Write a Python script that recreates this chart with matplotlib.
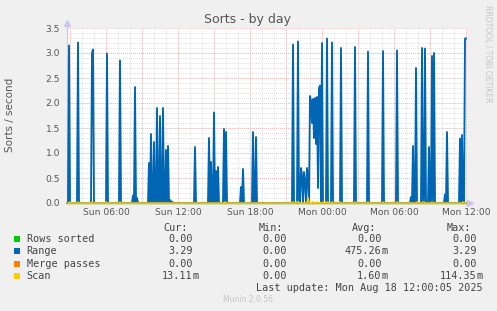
import numpy as np
import matplotlib.pyplot as plt
from matplotlib.patches import Rectangle

W, H = 497, 311

# Range sorts per second, only the non-zero samples (5 minute steps)
range_times = ['Sun 02:55', 'Sun 03:40', 'Sun 04:50', 'Sun 04:55', 'Sun 06:05', 'Sun 07:10',
               'Sun 08:15', 'Sun 08:25', 'Sun 08:35', 'Sun 09:35', 'Sun 09:45', 'Sun 10:00',
               'Sun 10:15', 'Sun 10:30', 'Sun 10:45', 'Sun 11:00', 'Sun 11:10', 'Sun 11:20',
               'Sun 11:30', 'Sun 13:25', 'Sun 14:35', 'Sun 14:45', 'Sun 15:00', 'Sun 15:10',
               'Sun 15:20', 'Sun 15:50', 'Sun 16:00', 'Sun 17:15', 'Sun 17:25', 'Sun 18:15',
               'Sun 18:30', 'Sun 21:35', 'Sun 22:00', 'Sun 22:15', 'Sun 22:20', 'Sun 22:30',
               'Sun 22:35', 'Sun 22:45', 'Sun 22:50', 'Sun 23:00', 'Sun 23:05', 'Sun 23:10',
               'Sun 23:15', 'Sun 23:20', 'Sun 23:25', 'Sun 23:30', 'Sun 23:35', 'Sun 23:40',
               'Sun 23:45', 'Sun 23:50', 'Mon 00:00', 'Mon 00:25', 'Mon 00:50', 'Mon 01:35',
               'Mon 02:45', 'Mon 03:50', 'Mon 05:05', 'Mon 06:15', 'Mon 07:25', 'Mon 07:35',
               'Mon 07:50', 'Mon 08:20', 'Mon 08:35', 'Mon 08:55', 'Mon 09:10', 'Mon 09:20',
               'Mon 10:15', 'Mon 10:25', 'Mon 11:30', 'Mon 11:40', 'Mon 11:55', 'Mon 12:00']
range_values = [3.15, 3.21, 3.00, 3.07, 2.99, 2.85,
                0.15, 2.32, 0.10, 0.80, 1.38, 1.22,
                1.90, 1.74, 1.90, 1.06, 1.14, 0.06,
                0.03, 1.12, 1.30, 0.82, 1.81, 0.64,
                0.72, 1.48, 1.42, 0.32, 0.68, 1.42,
                1.32, 3.17, 3.23, 0.70, 0.55, 0.62,
                0.45, 0.70, 0.50, 2.14, 2.05, 1.60,
                2.08, 1.30, 2.10, 1.18, 2.12, 0.30,
                2.30, 2.35, 3.20, 3.29, 3.21, 3.10,
                3.12, 3.03, 3.04, 3.05, 0.12, 1.14,
                2.70, 3.10, 3.09, 1.12, 2.94, 3.00,
                0.17, 1.42, 1.29, 1.36, 3.29, 3.29]

# Scan sorts per second, non-zero samples
scan_times = ['Sun 03:00', 'Sun 03:40', 'Sun 04:50', 'Sun 06:00', 'Sun 07:10', 'Sun 15:55',
              'Sun 21:35', 'Sun 21:55', 'Sun 22:00', 'Sun 22:50', 'Sun 23:15', 'Sun 23:30',
              'Sun 23:40', 'Sun 23:50', 'Mon 00:05', 'Mon 00:15', 'Mon 00:25', 'Mon 00:30',
              'Mon 00:50', 'Mon 01:30', 'Mon 02:45', 'Mon 03:50', 'Mon 05:05', 'Mon 06:15',
              'Mon 07:55', 'Mon 08:25', 'Mon 08:30', 'Mon 09:10', 'Mon 11:45', 'Mon 12:00']
scan_values = [0.02, 0.02, 0.02, 0.02, 0.02, 0.02,
               0.02, 0.02, 0.03, 0.114, 0.03, 0.02,
               0.02, 0.015, 0.02, 0.02, 0.02, 0.015,
               0.02, 0.02, 0.02, 0.02, 0.02, 0.02,
               0.02, 0.02, 0.02, 0.02, 0.02, 0.013]

tick_labels = ['Sun 06:00', 'Sun 12:00', 'Sun 18:00', 'Mon 00:00', 'Mon 06:00', 'Mon 12:00']

legend_names = ['Rows sorted', 'Range', 'Merge passes', 'Scan']
legend_colors = ['#00CC00', '#0066B3', '#FF8000', '#FFCC00']
cur_vals = ['0.00', '3.29', '0.00', '13.11m']
min_vals = ['0.00', '0.00', '0.00', '0.00']
avg_vals = ['0.00', '475.26m', '0.00', '1.60m']
max_vals = ['0.00', '3.29', '0.00', '114.35m']


def to_hours(s):
    day, hm = s.split()
    h, m = hm.split(':')
    return {'Sun': 0, 'Mon': 24}[day] + int(h) + int(m) / 60.


T0 = 2.75
t = T0 + np.arange(400) / 12.


def series(times, values):
    y = np.zeros(len(t))
    for s, v in zip(times, values):
        y[int(round((to_hours(s) - T0) * 12))] = v
    return y


rows = np.zeros(len(t))
rng = series(range_times, range_values)
merge = np.zeros(len(t))
scan = series(scan_times, scan_values)

TXT = '#555555'
fig = plt.figure(figsize=(W / 100, H / 100), dpi=100, facecolor='#F0F0F0')
ax = fig.add_axes([67 / W, 1 - 203 / H, 400 / W, 175 / H], facecolor='white')
ax.set_xlim(T0, T0 + 400 / 12.)
ax.set_ylim(0, 3.5)
for s in ax.spines.values():
    s.set_visible(False)

# grid
dots = (0, (1, 1.2))
for v in np.arange(0.1, 3.5, 0.1):
    ax.axhline(v, color='#DCDCDC', lw=0.65, ls=dots, zorder=0)
for h in range(3, 37):
    ax.axvline(h, color='#DCDCDC', lw=0.65, ls=dots, zorder=0)
for v in np.arange(0.5, 3.51, 0.5):
    ax.axhline(v, color='#F0B4B4', lw=0.65, ls=dots, zorder=0.5)
for h in range(3, 37, 3):
    ax.axvline(h, color='#F0B4B4', lw=0.65, ls=dots, zorder=0.5)

# axes with arrows
ax.plot([0, 0], [0, 1.02], transform=ax.transAxes, color='#C8C8F0', lw=0.8, clip_on=False)
ax.plot([0], [1.028], marker='^', ms=5, color='#C8C8F0', transform=ax.transAxes, clip_on=False)
ax.plot([1.0085], [0], marker='>', ms=5, color='#C8C8F0', transform=ax.transAxes, clip_on=False)

for y, c, w in zip([rows, rng, merge, scan], legend_colors, [0.9, 1.35, 0.9, 1.0]):
    ax.plot(t, y, color=c, lw=w, clip_on=False, zorder=3)

ax.set_xticks([6, 12, 18, 24, 30, 36])
ax.set_xticklabels(tick_labels)
ax.set_yticks(np.arange(0, 3.51, 0.5))
ax.set_yticklabels(['%.1f' % v for v in np.arange(0, 3.51, 0.5)])
ax.tick_params(axis='x', length=0, pad=3.6, labelsize=6.6, labelcolor=TXT)
ax.tick_params(axis='y', length=0, pad=5, labelsize=6.6, labelcolor=TXT)

fig.text(248 / W, 1 - 20 / H, 'Sorts - by day', ha='center', va='center', fontsize=9, color=TXT)
fig.text(10.5 / W, 1 - 115 / H, 'Sorts / second', ha='center', va='center', rotation=90,
         fontsize=7.5, color=TXT)
fig.text(488 / W, 1 - 54 / H, 'RRDTOOL / TOBI OETIKER', ha='center', va='center', rotation=270,
         fontsize=5.5, color='#C4C4C4')

# legend
mono = dict(family='DejaVu Sans Mono', fontsize=7.3, color='#444444', va='center')
for x, lab in zip([163.3, 258.3, 352.3, 446.7], ['Cur:', 'Min:', 'Avg:', 'Max:']):
    fig.text(x / W, 1 - 228.3 / H, lab, ha='left', **mono)
row_y = [239.3, 251.3, 263.7, 275.7]
col_end = [192.7, 287.3, 381.7, 476.7]
for i, name in enumerate(legend_names):
    y = 1 - row_y[i] / H
    fig.patches.append(Rectangle((14 / W, y - 3 / H), 6 / W, 6 / H, transform=fig.transFigure,
                                 facecolor=legend_colors[i], edgecolor='none'))
    fig.text(26.7 / W, y, name, ha='left', **mono)
    for x, vals in zip(col_end, [cur_vals, min_vals, avg_vals, max_vals]):
        v = vals[i]
        num, unit = (v[:-1], v[-1]) if v.endswith('m') else (v, '')
        fig.text(x / W, y, num, ha='right', **mono)
        if unit:
            fig.text((x - 0.5) / W, y, unit, ha='left', **mono)

fig.text(482.3 / W, 1 - 287.7 / H, 'Last update: Mon Aug 18 12:00:05 2025', ha='right', **mono)
fig.text(248 / W, 1 - 300 / H, 'Munin 2.0.56', ha='center', va='center', fontsize=5.5,
         color='#C4C4C4')

fig.savefig('out.png', dpi=100, facecolor=fig.get_facecolor())
